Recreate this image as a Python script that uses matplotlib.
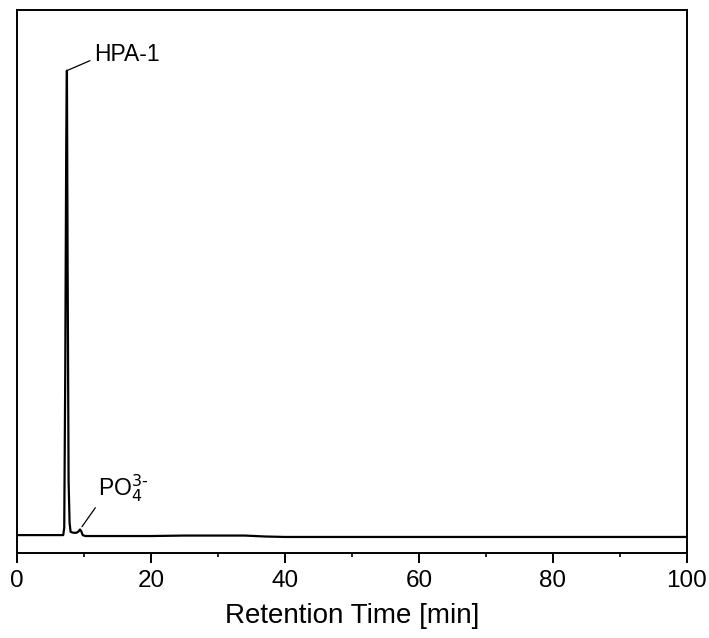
import matplotlib.pyplot as plt
import numpy as np

plt.rcParams['font.family'] = ['Liberation Sans', 'DejaVu Sans']

# chromatogram (time in min, relative signal)
time = [0, 6.9, 7.05, 7.2, 7.35, 7.45, 7.55, 7.7, 7.85, 8.0, 8.4, 8.9, 9.2, 9.4, 9.6, 9.8,
        10.2, 11, 15, 20, 25, 30, 34, 37, 40, 50, 60, 70, 80, 90, 100]
signal = [0.004, 0.004, 0.02, 0.35, 0.85, 1.0, 0.6, 0.12, 0.03, 0.011, 0.009, 0.009, 0.012,
          0.016, 0.012, 0.004, 0.002, 0.002, 0.002, 0.002, 0.003, 0.003, 0.003, 0.001,
          0.0, 0.0, 0.0, 0.0, 0.0, 0.0, 0.0]

xticks = [0, 20, 40, 60, 80, 100]

fig = plt.figure(figsize=(7.09, 6.38), dpi=100)
ax = fig.add_axes([17/709, 1-553/638, 670/709, 543/638])

ax.plot(time, signal, color='black', lw=1.6)

ax.set_xlim(0, 100)
ax.set_ylim(-0.0344, 1.130)
ax.set_xticks(xticks)
ax.set_xticks(np.arange(10, 100, 20), minor=True)
ax.set_yticks([])
ax.tick_params(axis='x', which='major', length=7, width=1.4, labelsize=17.5,
               direction='out', pad=5)
ax.tick_params(axis='x', which='minor', length=3, width=1.2, direction='out')
for s in ax.spines.values():
    s.set_linewidth(1.4)
ax.set_xlabel('Retention Time [min]', fontsize=20, labelpad=8)

ax.annotate('HPA-1', xy=(7.45, 1.0), xytext=(11.5, 1.035), fontsize=16.5,
            ha='left', va='center',
            arrowprops=dict(arrowstyle='-', color='black', lw=0.9, shrinkA=1, shrinkB=0,
                            relpos=(0, 0.3)))
ax.annotate('PO$_4^{3\u2010}$', xy=(9.7, 0.022), xytext=(12.1, 0.105), fontsize=16.5,
            ha='left', va='center',
            arrowprops=dict(arrowstyle='-', color='black', lw=0.9, shrinkA=1, shrinkB=0,
                            relpos=(0, 0)))

fig.savefig('out.png', dpi=100)
